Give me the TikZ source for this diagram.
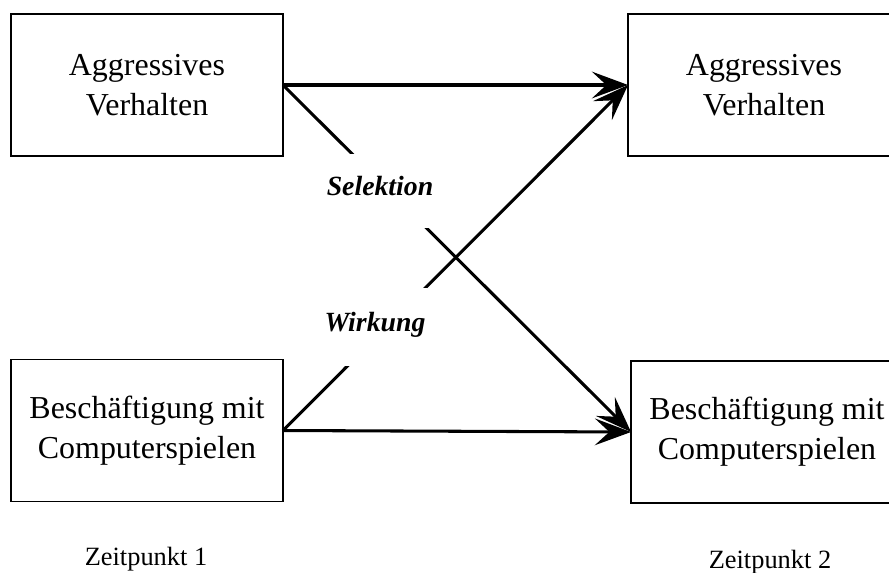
\documentclass[tikz,border=0pt]{standalone}
\usepackage{fontspec}
\setmainfont{Liberation Serif}
\usetikzlibrary{arrows.meta}
\begin{document}
\begin{tikzpicture}[x=0.36pt,y=-0.36pt]
        \tikzset{
          box/.style={draw=black,line width=0.5pt,minimum width=97.9pt,minimum height=51.1pt,
            inner sep=0pt,outer sep=0pt,align=center,font=\fontsize{11.5}{14.4}\selectfont},
          pfeil/.style={line width=1.1pt,-{Stealth[length=13pt,width=9.6pt,inset=5.2pt]}},
          lbl/.style={fill=white,inner xsep=2pt,inner ysep=0pt,text height=0.7em,text depth=0.35em,
            font=\fontsize{10}{12}\selectfont\bfseries\itshape},
          zeit/.style={anchor=base,inner sep=0pt,font=\fontsize{9.5}{11}\selectfont},
        }
        \useasboundingbox (0,0) rectangle (889,572);
        %BOXES
        \node[box] (aggr1) at (147,85) {Aggressives\\Verhalten};
        \node[box] (aggr2) at (764,85) {Aggressives\\Verhalten};
        \node[box] (comp1) at (147,430.5) {Beschäftigung mit\\Computerspielen};
        \node[box] (comp2) at (767,432) {Beschäftigung mit\\Computerspielen};
        %ARROWS
        \draw[pfeil] (aggr1.east) -- (aggr2.west);
        \draw[pfeil] (comp1.east) -- (comp2.west);
        \draw[pfeil] (aggr1.east) -- (comp2.west);
        \draw[pfeil] (comp1.east) -- (aggr2.west);
        %LABELS
        \node[lbl,minimum height=26.3pt] (sel) at (380,191) {Selektion};
        \node[lbl,minimum height=28.1pt] (wirk) at (375,327) {Wirkung};
        \node[zeit] (zp1) at (146,565) {Zeitpunkt 1};
        \node[zeit] (zp2) at (770,568) {Zeitpunkt 2};
\end{tikzpicture}
\end{document}
